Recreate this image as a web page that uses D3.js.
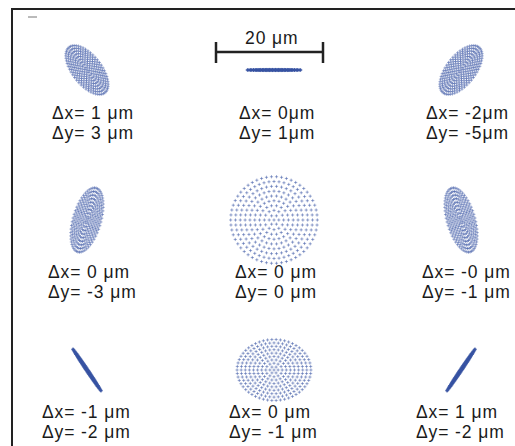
<!DOCTYPE html>
<html>
<head>
<meta charset="utf-8">
<script src="https://cdn.jsdelivr.net/npm/d3@7"></script>
<style>
  html, body { margin: 0; padding: 0; background: #fff; }
  svg { display: block; }
  text { font-family: "Liberation Sans", Arial, sans-serif; fill: #1a1a1a; }
</style>
</head>
<body>
<div id="chart"></div>
<script>
// spot diagram, 3x3 field points, values in micrometres
const dxLabels = ['1 μm', '0μm', '-2μm', '0 μm', '0 μm', '-0 μm', '-1 μm', '0 μm', '1 μm'];
const dyLabels = ['3 μm', '1μm', '-5μm', '-3 μm', '0 μm', '-1 μm', '-2 μm', '-1 μm', '-2 μm'];
const semiMajor = [5.4, 5.0, 5.4, 6.2, 8.1, 6.2, 4.7, 6.9, 4.7];
const semiMinor = [2.7, 0.1, 2.7, 2.6, 8.1, 2.6, 0.22, 5.7, 0.22];
const tiltDeg = [52, 0, -52, -74, 0, 74, 56, 0, -56];
const scaleBarUm = 20;
const pupilRings = 9;

const W = 515, H = 446;
const BLUE = '#3a55a5';

const svg = d3.select('#chart').append('svg')
  .attr('width', W).attr('height', H);

// frame (only left and top visible in the crop)
svg.append('path')
  .attr('d', `M12,${H} L12,9 L${W},9`)
  .attr('fill', 'none').attr('stroke', '#222').attr('stroke-width', 2);
svg.append('line')
  .attr('x1', 28).attr('x2', 37).attr('y1', 17).attr('y2', 17)
  .attr('stroke', '#777').attr('stroke-width', 1);

const col = d3.scalePoint().domain([0, 1, 2]).range([87, 461]);
const row = d3.scalePoint().domain([0, 1, 2]).range([70, 370]);
const um = d3.scaleLinear().domain([0, 1]).range([0, 5.35]);

// hexapolar pupil sampling
const pupil = [[0, 0]];
for (let r = 1; r <= pupilRings; r++) {
  const n = 6 * r;
  for (let k = 0; k < n; k++) {
    const a = 2 * Math.PI * k / n;
    pupil.push([r / pupilRings * Math.cos(a), r / pupilRings * Math.sin(a)]);
  }
}

const labelDx = [-35, -39, -45];
const labelDy = [49, 58, 48];
const lineGap = 19.5;

dxLabels.forEach((lab, i) => {
  const c = i % 3, r = Math.floor(i / 3);
  const cx = col(c), cy = row(r);
  const th = tiltDeg[i] * Math.PI / 180;
  const A = um(semiMajor[i]), B = um(semiMinor[i]);
  const g = svg.append('g').attr('transform', `translate(${cx},${cy})`);
  const pts = pupil.map(([u, v]) => [
    A * u * Math.cos(th) - B * v * Math.sin(th),
    A * u * Math.sin(th) + B * v * Math.cos(th)
  ]);
  g.selectAll('path').data(pts).enter().append('path')
    .attr('d', d => `M${d[0] - 1.6},${d[1]}h3.2M${d[0]},${d[1] - 1.6}v3.2`)
    .attr('stroke', BLUE).attr('stroke-width', 0.6).attr('stroke-opacity', 0.85)
    .attr('fill', 'none');

  const lx = cx + labelDx[r], ly = cy + labelDy[r];
  svg.append('text').attr('x', lx).attr('y', ly)
    .attr('font-size', 17.5).attr('letter-spacing', 0.9).text('Δx= ' + lab);
  svg.append('text').attr('x', lx).attr('y', ly + lineGap)
    .attr('font-size', 17.5).attr('letter-spacing', 0.9).text('Δy= ' + dyLabels[i]);
});

// scale bar
const bx0 = 216, bx1 = bx0 + um(scaleBarUm), by = 52;
const bar = svg.append('g').attr('stroke', '#222').attr('stroke-width', 2.5);
bar.append('line').attr('x1', bx0).attr('x2', bx1).attr('y1', by).attr('y2', by);
bar.append('line').attr('x1', bx0).attr('x2', bx0).attr('y1', by - 10).attr('y2', by + 11);
bar.append('line').attr('x1', bx1).attr('x2', bx1).attr('y1', by - 10).attr('y2', by + 11);
svg.append('text').attr('x', 245).attr('y', 44)
  .attr('font-size', 17.5).attr('letter-spacing', 0.9).text(scaleBarUm + ' μm');
</script>
</body>
</html>
